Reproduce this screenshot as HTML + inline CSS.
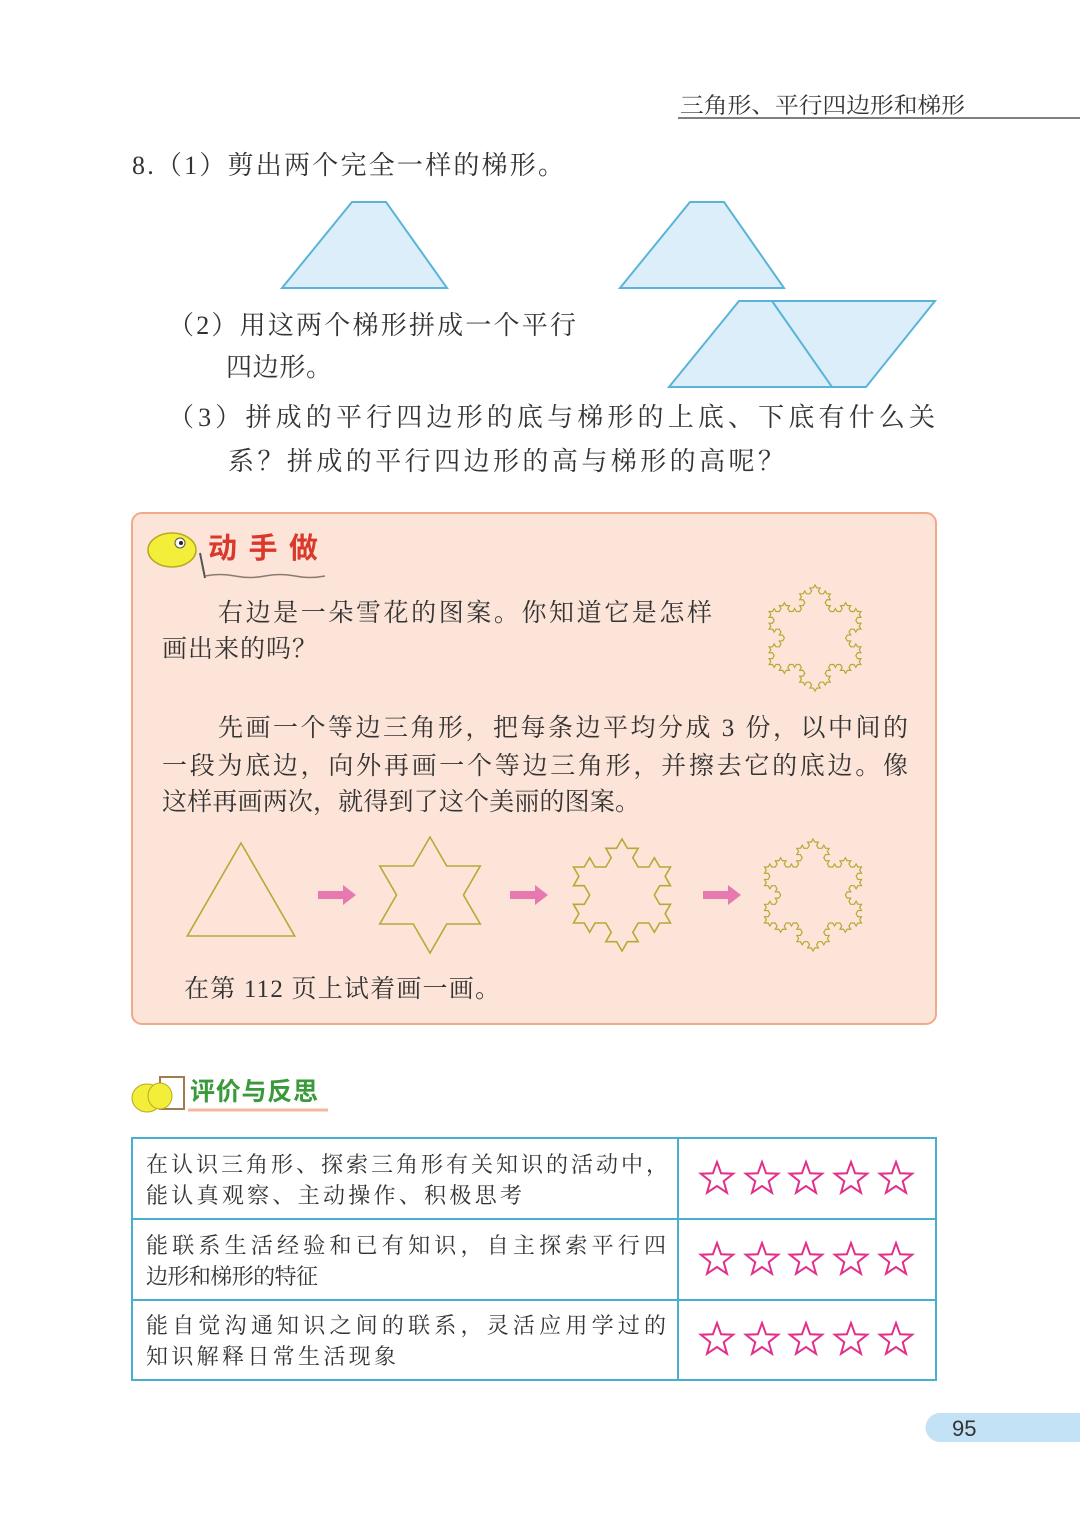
<!DOCTYPE html>
<html><head><meta charset="utf-8"><style>
html,body{margin:0;padding:0;background:#fff;}
svg{display:block;}
text{font-family:"Liberation Serif","Noto Serif CJK SC",serif;fill:#333;}
.sans{font-family:"Liberation Sans","Noto Sans CJK SC",sans-serif;}
</style></head><body>
<svg id="pg" width="1080" height="1527" viewBox="0 0 1080 1527">
<text x="680" y="113" font-size="22" textLength="285" lengthAdjust="spacingAndGlyphs">三角形、平行四边形和梯形</text>
<line x1="678" y1="118" x2="1080" y2="118" stroke="#555" stroke-width="1.5"/>

<text x="132" y="174" font-size="26" textLength="432" lengthAdjust="spacing">8.（1）剪出两个完全一样的梯形。</text>
<polygon points="352,202 386,202 447,288 282,288" fill="#dbeef9" stroke="#5ab4d8" stroke-width="2"/>
<polygon points="690,202 724,202 784,288 620,288" fill="#dbeef9" stroke="#5ab4d8" stroke-width="2"/>
<polygon points="739,301 935,301 866,387 669,387" fill="#dbeef9" stroke="#5ab4d8" stroke-width="2"/>
<line x1="772" y1="301" x2="832" y2="387" stroke="#5ab4d8" stroke-width="2"/>

<text x="168" y="334" font-size="26" textLength="408" lengthAdjust="spacing">（2）用这两个梯形拼成一个平行</text>
<text x="226" y="376" font-size="26" textLength="106" lengthAdjust="spacing">四边形。</text>
<text x="168" y="426" font-size="26" textLength="767" lengthAdjust="spacing">（3）拼成的平行四边形的底与梯形的上底、下底有什么关</text>
<text x="228" y="470" font-size="26" textLength="556" lengthAdjust="spacing">系？拼成的平行四边形的高与梯形的高呢？</text>

<rect x="132" y="513" width="804" height="511" rx="10" fill="#fde4d8" stroke="#f2a98a" stroke-width="2"/>
<g>
<ellipse cx="172" cy="550" rx="24" ry="17" fill="#f3ee3a" stroke="#b8a820" stroke-width="1.5"/>
<circle cx="180" cy="543" r="5" fill="#fff" stroke="#555"/><circle cx="181" cy="543" r="2" fill="#222"/>
<line x1="200" y1="553" x2="205" y2="578" stroke="#555" stroke-width="2"/>
</g>
<path d="M205 576 q15 -3 30 0 t30 0 t30 0 t30 0" fill="none" stroke="#8a7a70" stroke-width="1.5"/>
<text x="208" y="558" font-size="29" font-weight="bold" class="sans" style="fill:#d9392a" textLength="110" lengthAdjust="spacing">动 手 做</text>

<text x="218" y="621" font-size="25" textLength="494" lengthAdjust="spacing">右边是一朵雪花的图案。你知道它是怎样</text>
<text x="162" y="657" font-size="25" textLength="155" lengthAdjust="spacing">画出来的吗？</text>
<text x="218" y="736" font-size="25" textLength="690" lengthAdjust="spacing">先画一个等边三角形，把每条边平均分成 3 份，以中间的</text>
<text x="162" y="774" font-size="25" textLength="746" lengthAdjust="spacing">一段为底边，向外再画一个等边三角形，并擦去它的底边。像</text>
<text x="162" y="810" font-size="25" textLength="478" lengthAdjust="spacing">这样再画两次，就得到了这个美丽的图案。</text>
<text x="184" y="997" font-size="25" textLength="316" lengthAdjust="spacing">在第 112 页上试着画一画。</text>
<g id="koch"></g>
<g>
<polygon points="318,891 343,891 343,885 356,895 343,905 343,899 318,899" fill="#e878b0"/>
<polygon points="510,891 535,891 535,885 548,895 535,905 535,899 510,899" fill="#e878b0"/>
<polygon points="703,891 728,891 728,885 741,895 728,905 728,899 703,899" fill="#e878b0"/>
</g>

<g>
<rect x="160" y="1077" width="24" height="32" fill="#fff" stroke="#a07a50" stroke-width="2"/>
<ellipse cx="147" cy="1098" rx="15" ry="14" fill="#f3ee3a" stroke="#b8a820"/>
<ellipse cx="160" cy="1096" rx="12" ry="13" fill="#f3ee3a" stroke="#b8a820"/>
</g>
<text x="190" y="1100" font-size="25" class="sans" style="fill:#3a9a3a" font-weight="bold" textLength="128" lengthAdjust="spacing">评价与反思</text>
<line x1="188" y1="1110" x2="328" y2="1110" stroke="#f2b8a0" stroke-width="3"/>

<g stroke="#4aaed0" stroke-width="2" fill="none">
<rect x="132" y="1138" width="804" height="242"/>
<line x1="132" y1="1219" x2="936" y2="1219"/><line x1="132" y1="1300" x2="936" y2="1300"/>
<line x1="678" y1="1138" x2="678" y2="1380"/>
</g>
<text x="146" y="1172" font-size="22" textLength="522" lengthAdjust="spacing">在认识三角形、探索三角形有关知识的活动中，</text>
<text x="146" y="1203" font-size="22" textLength="376" lengthAdjust="spacing">能认真观察、主动操作、积极思考</text>
<text x="146" y="1253" font-size="22" textLength="520" lengthAdjust="spacing">能联系生活经验和已有知识，自主探索平行四</text>
<text x="146" y="1284" font-size="22" textLength="172" lengthAdjust="spacing">边形和梯形的特征</text>
<text x="146" y="1333" font-size="22" textLength="520" lengthAdjust="spacing">能自觉沟通知识之间的联系，灵活应用学过的</text>
<text x="146" y="1364" font-size="22" textLength="250" lengthAdjust="spacing">知识解释日常生活现象</text>
<g id="stars"></g>

<path d="M940 1413 H1080 V1442 H940 a14 14 0 0 1 0 -29 z" fill="#c4e2f6"/>
<text x="952" y="1436" font-size="22" class="sans">95</text>
</svg>
<script>
const NS="http://www.w3.org/2000/svg";
function koch(cx,cy,r,level){
  let pts=[];for(let i=0;i<3;i++){const a=-Math.PI/2+i*2*Math.PI/3;pts.push([cx+r*Math.cos(a),cy+r*Math.sin(a)]);}
  pts.push(pts[0]);
  for(let l=0;l<level;l++){const np=[];
    for(let i=0;i<pts.length-1;i++){const[a,b]=[pts[i],pts[i+1]];const dx=(b[0]-a[0])/3,dy=(b[1]-a[1])/3;
      const p1=[a[0]+dx,a[1]+dy],p2=[a[0]+2*dx,a[1]+2*dy];
      const c=Math.cos(-Math.PI/3),s=Math.sin(-Math.PI/3);
      const pk=[p1[0]+dx*c-dy*s,p1[1]+dx*s+dy*c];
      np.push(a,p1,pk,p2);}
    np.push(pts[pts.length-1]);pts=np;}
  return pts.map(p=>p.join(',')).join(' ');
}
const g=document.getElementById('koch');
const figs=[[241,905,62,0,'triangle'],[430,895,58,1,'star'],[622,895,56,2,'koch-level-2'],[813,895,56,3,'koch-level-3'],[815,638,53,3,'snowflake']];
figs.forEach(f=>{const p=document.createElementNS(NS,'polygon');
  p.setAttribute('points',koch(f[0],f[1],f[2],f[3]));
  p.setAttribute('fill','none');p.setAttribute('stroke','#b8a838');p.setAttribute('stroke-width',f[3]>2?'1.2':'1.6');
  
  
  g.appendChild(p);});
const sg=document.getElementById('stars');
[1179,1260,1340].forEach((y,ri)=>{[717,762,806,851,896].forEach((x,ci)=>{
  const pts=[];for(let i=0;i<10;i++){const r=i%2?7:17;const a=-Math.PI/2+i*Math.PI/5;pts.push((x+r*Math.cos(a)).toFixed(1)+','+(y+r*Math.sin(a)).toFixed(1));}
  const s=document.createElementNS(NS,'polygon');s.setAttribute('points',pts.join(' '));
  s.setAttribute('fill','none');s.setAttribute('stroke','#e0308a');s.setAttribute('stroke-width','2');
  
  
  sg.appendChild(s);});});
</script>
</body></html>
